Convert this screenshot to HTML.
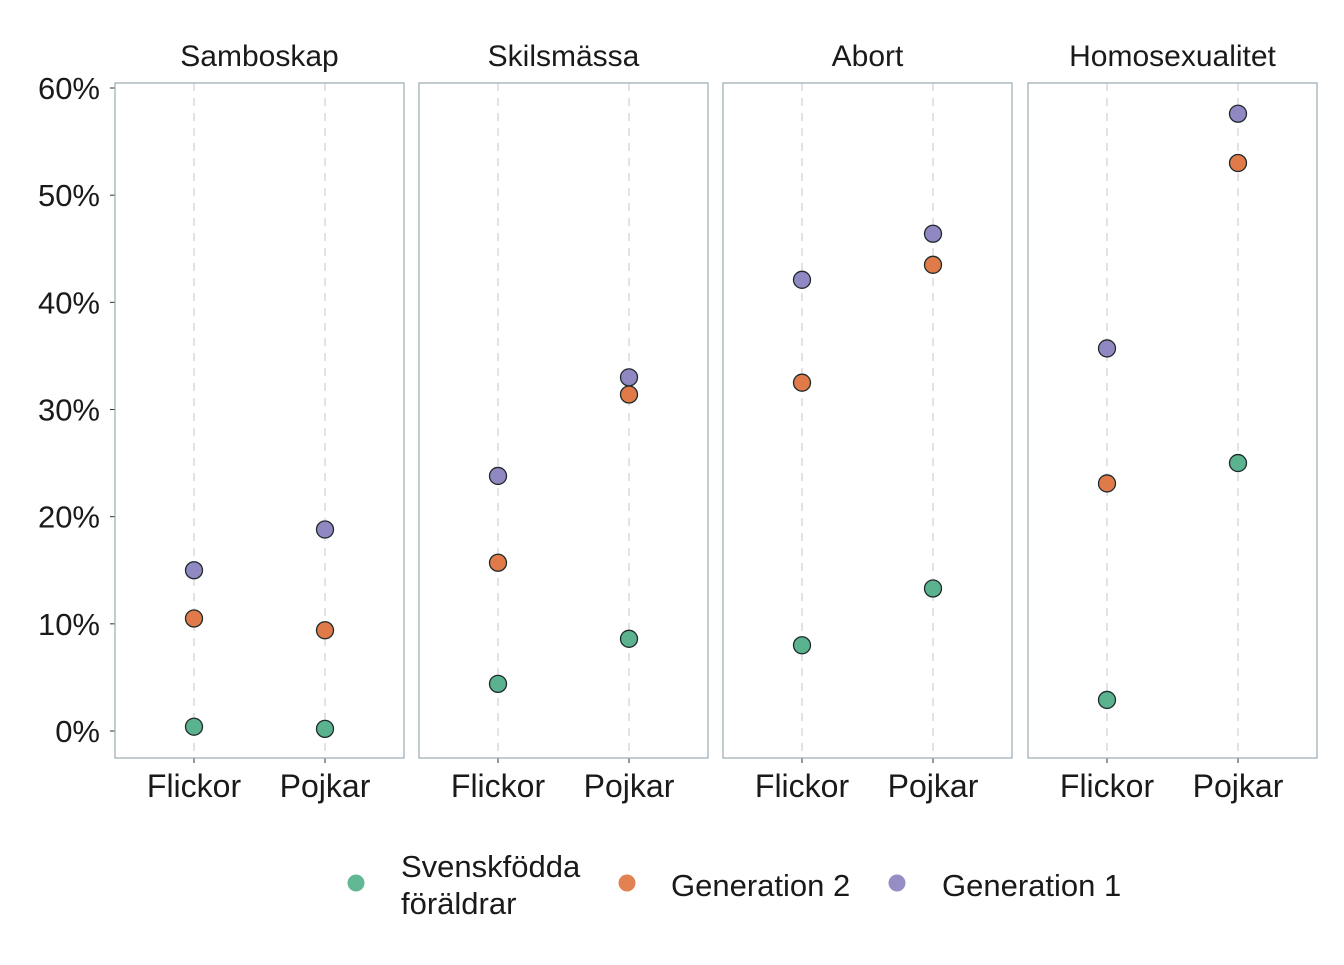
<!DOCTYPE html>
<html><head><meta charset="utf-8"><style>
body{margin:0;background:#fff}
svg text{font-family:"Liberation Sans Narrow","Liberation Sans",sans-serif;fill:#1a1a1a}
</style></head><body>
<svg id="chart" width="1344" height="960" viewBox="0 0 1344 960" xmlns="http://www.w3.org/2000/svg"></svg>
<script>
const panels = ["Samboskap","Skilsmässa","Abort","Homosexualitet"];
const categories = ["Flickor","Pojkar"];
const seriesNames = ["Svenskfödda föräldrar","Generation 2","Generation 1"];
const svenskfodda = [[0.4,0.2],[4.4,8.6],[8.0,13.3],[2.9,25.0]];
const generation2 = [[10.5,9.4],[15.7,31.4],[32.5,43.5],[23.1,53.0]];
const generation1 = [[15.0,18.8],[23.8,33.0],[42.1,46.4],[35.7,57.6]];
const yTicks = [0,10,20,30,40,50,60];

const colors = ["#5ab38e","#e07a48","#8f88c2"];
const svgEl = document.getElementById('chart');
const NS = "http://www.w3.org/2000/svg";
const panelLeft = [115,419,723,1028], panelW = 289, plotTop = 83, plotBottom = 758;
const yScale = v => 731 - v * (731 - 88) / 60;
const xScale = (p, c) => panelLeft[p] + (c === 0 ? 79 : 210);
function mk(tag, attrs, parent){const e=document.createElementNS(NS,tag);for(const k in attrs)e.setAttribute(k,attrs[k]);(parent||svgEl).appendChild(e);return e;}

yTicks.forEach(t=>{
  const tx = mk('text',{x:100,y:yScale(t)+11,'text-anchor':'end','font-size':31});
  tx.textContent = t + '%';
  
  
  mk('line',{x1:110,x2:115,y1:yScale(t),y2:yScale(t),stroke:'#333','stroke-width':1});
});

panels.forEach((name,p)=>{
  const g = mk('g',{});
  
  
  categories.forEach((c,ci)=>{
    mk('line',{x1:xScale(p,ci),x2:xScale(p,ci),y1:plotTop,y2:plotBottom,stroke:'#d0d0d0','stroke-dasharray':'8,7','stroke-width':1.2},g);
    mk('line',{x1:xScale(p,ci),x2:xScale(p,ci),y1:plotBottom,y2:plotBottom+5,stroke:'#333'},g);
    const lt = mk('text',{x:xScale(p,ci),y:797,'text-anchor':'middle','font-size':32},g);
    lt.textContent = c;
    
    
  });
  mk('rect',{x:panelLeft[p],y:plotTop,width:panelW,height:plotBottom-plotTop,fill:'none',stroke:'#9aabb2','stroke-width':1.2},g);
  const st = mk('text',{x:panelLeft[p]+panelW/2,y:66,'text-anchor':'middle','font-size':30},g);
  st.textContent = name;
  
  
  [svenskfodda,generation2,generation1].forEach((s,si)=>{
    categories.forEach((c,ci)=>{
      const pt = mk('circle',{cx:xScale(p,ci),cy:yScale(s[p][ci]),r:8.5,fill:colors[si],stroke:'#1f2a2a','stroke-width':1.3},g);
      
      
    });
  });
});

const lg = mk('g',{});


const legX = [356,627,897], legTX = [401,671,942];
seriesNames.forEach((n,i)=>{
  const c = mk('circle',{cx:legX[i],cy:883,r:8.5,fill:colors[i],opacity:0.95},lg);
  
  
  const t = mk('text',{x:legTX[i],y:i===0?877:896,'font-size':31},lg);
  
  
  if(i===0){
    t.textContent='Svenskfödda';
    const t2 = mk('text',{x:legTX[i],y:914,'font-size':31},lg);
    t2.textContent='föräldrar';
    
    
  } else t.textContent=n;
});
</script>
</body></html>
